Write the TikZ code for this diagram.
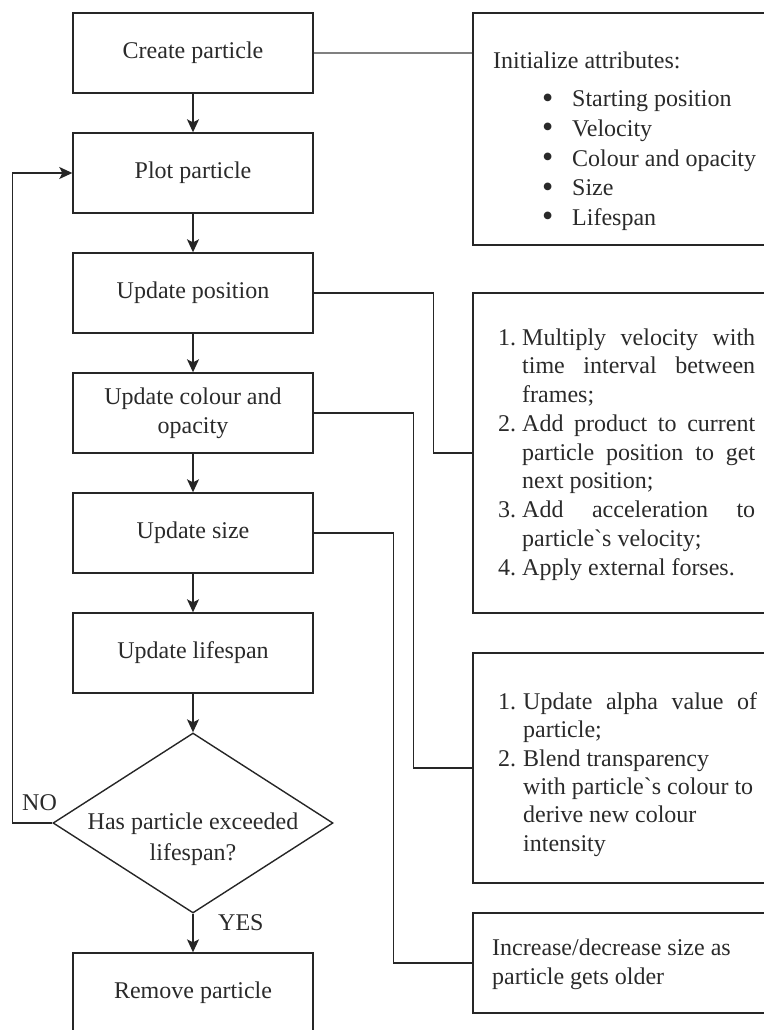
\documentclass[tikz,border=0pt]{standalone}
\usepackage{fontspec}
\setmainfont{Liberation Serif}[Ligatures=TeXOff]
\usetikzlibrary{shapes.geometric,arrows.meta}
\newcommand\fsz{\fontsize{24}{29}\selectfont}
\newcommand\bul{\makebox[30pt][l]{\raisebox{-1.5pt}{\fontsize{32}{32}\selectfont •}}}
\definecolor{lc}{HTML}{262626}
\definecolor{tc}{HTML}{2A2A2A}
\begin{document}
\begin{tikzpicture}[x=1pt,y=-1pt,
 box/.style={draw=lc,line width=1.4pt,minimum width=240pt,minimum height=80pt,inner sep=0pt,font=\fsz,text=tc,align=center},
 notebox/.style={draw=lc,line width=1.4pt,inner sep=0pt,minimum width=302pt},
 txt/.style={anchor=base west,inner sep=0pt,font=\fsz,text=tc},
 ctxt/.style={anchor=base,inner sep=0pt,font=\fsz,text=tc},
 link/.style={draw=lc,line width=1.4pt},
 arr/.style={link,-{Stealth[length=13pt,width=12pt,inset=3pt]}}]
\useasboundingbox (0,0) rectangle (763,1030);
% main column
\node[box] (create) at (193,53) {Create particle};
\node[box] (plot) at (193,173) {Plot particle};
\node[box] (pos) at (193,293) {Update position};
\node[box] (col) at (193,413) {Update colour and\\opacity};
\node[box] (size) at (193,533) {Update size};
\node[box] (life) at (193,653) {Update lifespan};
\node[draw=lc,line width=1.4pt,diamond,minimum width=280pt,minimum height=180pt,inner sep=0pt] (dec) at (193,823) {};
\node[box] (rem) at (193,993) {Remove particle};
\node[ctxt] (q1) at (193,829) {Has particle exceeded};
\node[ctxt] (q2) at (193,860) {lifespan?};
\node[txt] (no) at (22,810) {NO};
\node[txt] (yes) at (218,930) {YES};
% notes
\node[notebox,minimum height=232pt] (n1) at (624,129) {};
\node[notebox,minimum height=320pt] (n2) at (624,453) {};
\node[notebox,minimum height=230pt] (n3) at (624,768) {};
\node[notebox,minimum height=100pt] (n4) at (624,963) {};
% connectors
\draw[arr] (create.south) -- (plot.north);
\draw[arr] (plot.south) -- (pos.north);
\draw[arr] (pos.south) -- (col.north);
\draw[arr] (col.south) -- (size.north);
\draw[arr] (size.south) -- (life.north);
\draw[arr] (life.south) -- (dec.north);
\draw[arr] (dec.south) -- (rem.north);
\draw[arr] (dec.west) -- ++(-40,0) |- (plot.west);
\draw[link,draw=black!50] (create.east) -- (create.east -| n1.west);
\draw[link] (pos.east) -- ++(120,0) |- (n2.west);
\draw[link] (col.east) -- ++(100,0) |- (n3.west);
\draw[link] (size.east) -- ++(80,0) |- (n4.west);
% note 1 text
\node[txt] (a0) at (493,69) {Initialize attributes:};
\node[txt] (a1) at (542,107) {\bul Starting position};
\node[txt] (a2) at (542,136.5) {\bul Velocity};
\node[txt] (a3) at (542,166) {\bul Colour and opacity};
\node[txt] (a4) at (542,195.5) {\bul Size};
\node[txt] (a5) at (542,225) {\bul Lifespan};
% note 2 text
\node[txt] (b1) at (498,345) {\makebox[24pt][l]{1.}\makebox[233pt][s]{Multiply velocity with}};
\node[txt] (b2) at (522,373.75) {\makebox[233pt][s]{time interval between}};
\node[txt] (b3) at (522,402.5) {frames;};
\node[txt] (b4) at (498,431.25) {\makebox[24pt][l]{2.}\makebox[233pt][s]{Add product to current}};
\node[txt] (b5) at (522,460) {\makebox[233pt][s]{particle position to get}};
\node[txt] (b6) at (522,488.75) {next position;};
\node[txt] (b7) at (498,517.5) {\makebox[24pt][l]{3.}\makebox[233pt][s]{Add acceleration to}};
\node[txt] (b8) at (522,546.25) {particle`s velocity;};
\node[txt] (b9) at (498,575) {\makebox[24pt][l]{4.}Apply external forses.};
% note 3 text
\node[txt] (c1) at (498,709) {\makebox[25pt][l]{1.}\makebox[234pt][s]{Update alpha value of}};
\node[txt] (c2) at (523,737.5) {particle;};
\node[txt] (c3) at (498,766) {\makebox[25pt][l]{2.}Blend transparency};
\node[txt] (c4) at (523,794) {with particle`s colour to};
\node[txt] (c5) at (523,822.5) {derive new colour};
\node[txt] (c6) at (523,851) {intensity};
% note 4 text
\node[txt] (d1) at (492,955) {Increase/decrease size as};
\node[txt] (d2) at (492,984) {particle gets older};
\end{tikzpicture}
\end{document}
